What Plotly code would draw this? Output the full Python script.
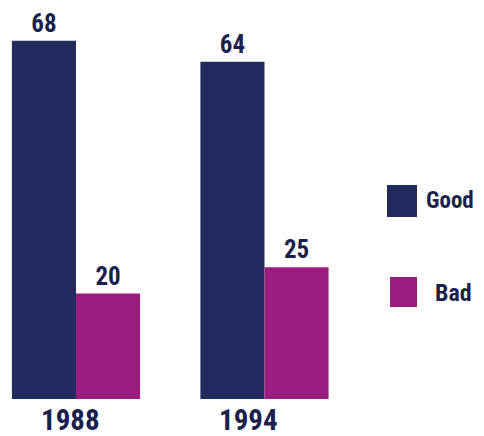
import plotly.graph_objects as go

years = ["1988", "1994"]
good = [68, 64]
bad = [20, 25]
series_names = ["Good", "Bad"]

NAVY = "#222a5e"
MAGENTA = "#9a1c7e"
TEXT = "#1b1f4b"
FONT = "Roboto Condensed, Liberation Sans, Arial, sans-serif"

# page body adds an 8px margin at top-left; size figure to end at the window edge
OFF = 8
W, H = 484 - OFF, 436 - OFF
mt = 0
plot_bottom = 399 - OFF
mb = H - plot_bottom
ph = plot_bottom - mt
px_per_unit = 5.27

fig = go.Figure()
for vals, name, col in [(good, series_names[0], NAVY), (bad, series_names[1], MAGENTA)]:
    fig.add_trace(go.Bar(x=years, y=vals, name=name, marker_color=col,
                         marker_line_width=0, text=vals, texttemplate="<b>%{text}</b>",
                         textposition="outside",
                         textfont=dict(size=25, color=TEXT, family=FONT), cliponaxis=False))

# year labels under groups (window-pixel centres)
year_cx = [70, 248]
for yr, cx in zip(years, year_cx):
    fig.add_annotation(xref="paper", yref="paper", x=(cx - OFF) / W, y=1 - (420 - OFF - mt) / ph,
                       text=f"<b>{yr}</b>", showarrow=False,
                       xanchor="center", yanchor="middle",
                       font=dict(size=29, color=TEXT, family=FONT))

# custom legend (positions in window pixels)
legend_items = [
    (series_names[0], NAVY, (387, 417, 185, 217), (424, 201), 23),
    (series_names[1], MAGENTA, (390, 417, 277, 307), (433, 293), 24),
]
for name, col, (x0, x1, y0, y1), (tx, ty), fs in legend_items:
    fig.add_shape(type="rect", xref="paper", yref="paper",
                  x0=(x0 - OFF) / W, x1=(x1 - OFF) / W,
                  y0=1 - (y1 - OFF - mt) / ph, y1=1 - (y0 - OFF - mt) / ph,
                  fillcolor=col, line_width=0)
    fig.add_annotation(xref="paper", yref="paper", x=(tx - OFF) / W, y=1 - (ty - OFF - mt) / ph,
                       text=f"<b>{name}</b>", showarrow=False, xanchor="left", yanchor="middle",
                       font=dict(size=fs, color=TEXT, family=FONT))

px_per_cat = 188.5
c0 = 76 - OFF
fig.update_layout(
    width=W, height=H,
    margin=dict(l=0, r=0, t=mt, b=mb),
    plot_bgcolor="white", paper_bgcolor="white",
    barmode="group", bargap=0.32, bargroupgap=0,
    showlegend=False,
    xaxis=dict(range=[-c0 / px_per_cat, (W - c0) / px_per_cat], showticklabels=False,
               showgrid=False, zeroline=False, showline=False, ticks=""),
    yaxis=dict(range=[0, ph / px_per_unit], visible=False, showgrid=False, zeroline=False),
)

fig.write_html("out.html")
